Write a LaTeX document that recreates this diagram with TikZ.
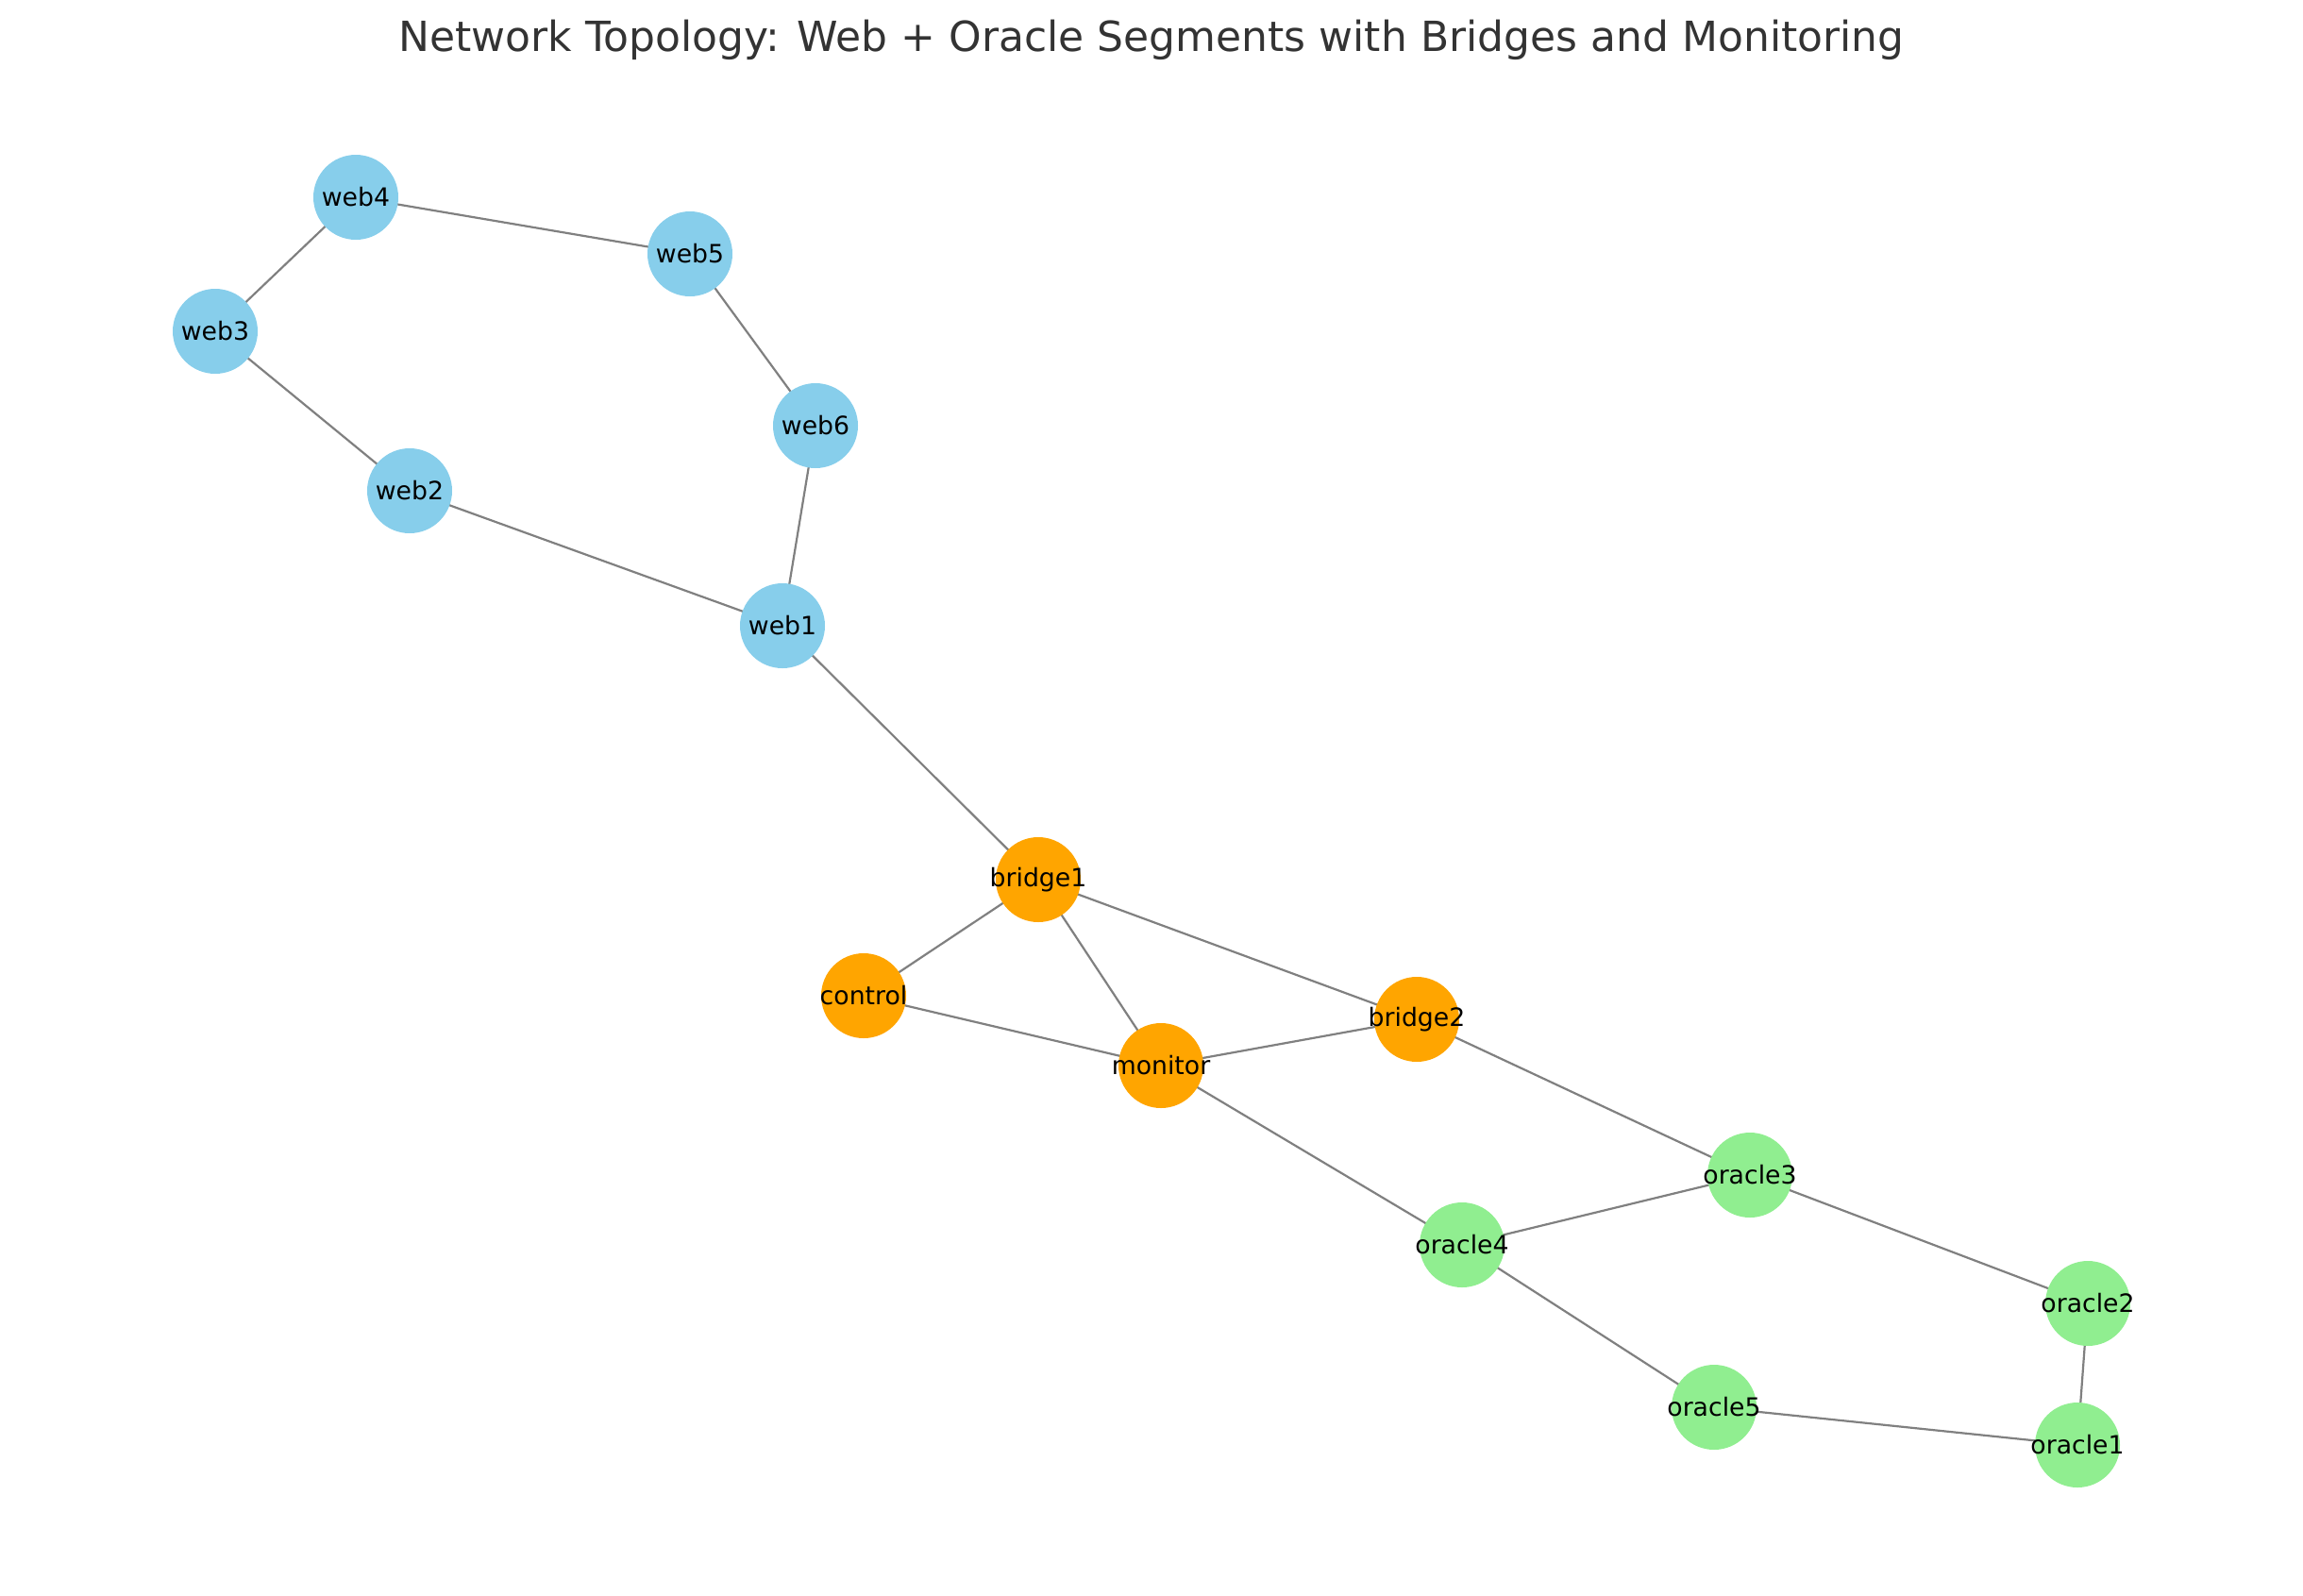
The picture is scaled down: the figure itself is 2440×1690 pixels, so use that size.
\documentclass[tikz,border=0pt]{standalone}
\usepackage{fontspec}
\setmainfont{DejaVu Sans}
\usetikzlibrary{backgrounds}
\definecolor{webc}{HTML}{87CEEB}
\definecolor{bridgec}{HTML}{FFA500}
\definecolor{oraclec}{HTML}{90EE90}
\definecolor{edgec}{HTML}{808080}
\definecolor{titlec}{HTML}{333333}
\tikzset{
  circ/.style={circle, draw=none, minimum size=90pt, inner sep=0pt},
  webnode/.style={circ, fill=webc},
  bridgenode/.style={circ, fill=bridgec},
  oraclenode/.style={circ, fill=oraclec},
  lbl/.style={inner sep=0pt, text=black, font=\fontsize{26.7}{32}\selectfont},
  link/.style={draw=edgec, line width=2.2pt},
  titletext/.style={inner sep=0pt, anchor=base, text=titlec, font=\fontsize{44}{52}\selectfont}
}
\begin{document}
\begin{tikzpicture}[x=1pt,y=-1pt]
\useasboundingbox (0,0) rectangle (2440,1690);
\node[titletext] (title) at (1220,54) {Network Topology: Web + Oracle Segments with Bridges and Monitoring};
% nodes
\node[webnode] (web1) at (829,663) {};
\node[webnode] (web2) at (434,520) {};
\node[webnode] (web3) at (228,351) {};
\node[webnode] (web4) at (377,209) {};
\node[webnode] (web5) at (731,269) {};
\node[webnode] (web6) at (864,451) {};
\node[bridgenode] (bridge1) at (1100,932) {};
\node[bridgenode] (bridge2) at (1501,1080) {};
\node[bridgenode] (control) at (915,1055) {};
\node[bridgenode] (monitor) at (1230,1129) {};
\node[oraclenode] (oracle1) at (2201,1531) {};
\node[oraclenode] (oracle2) at (2212,1381) {};
\node[oraclenode] (oracle3) at (1854,1245) {};
\node[oraclenode] (oracle4) at (1549,1319) {};
\node[oraclenode] (oracle5) at (1816,1491) {};
% labels
\foreach \n in {web1,web2,web3,web4,web5,web6,bridge1,bridge2,control,monitor,oracle1,oracle2,oracle3,oracle4,oracle5}
  \node[lbl] (\n-label) at (\n) {\n};
% edges
\begin{pgfonlayer}{background}
\foreach \a/\b in {web4/web5, web4/web3, web3/web2, web2/web1, web5/web6, web6/web1,
  web1/bridge1, bridge1/control, bridge1/monitor, bridge1/bridge2, control/monitor,
  monitor/bridge2, bridge2/oracle3, monitor/oracle4, oracle4/oracle3, oracle3/oracle2,
  oracle4/oracle5, oracle5/oracle1, oracle2/oracle1}
  \draw[link] (\a.center) -- (\b.center);
\end{pgfonlayer}
\end{tikzpicture}
\end{document}
